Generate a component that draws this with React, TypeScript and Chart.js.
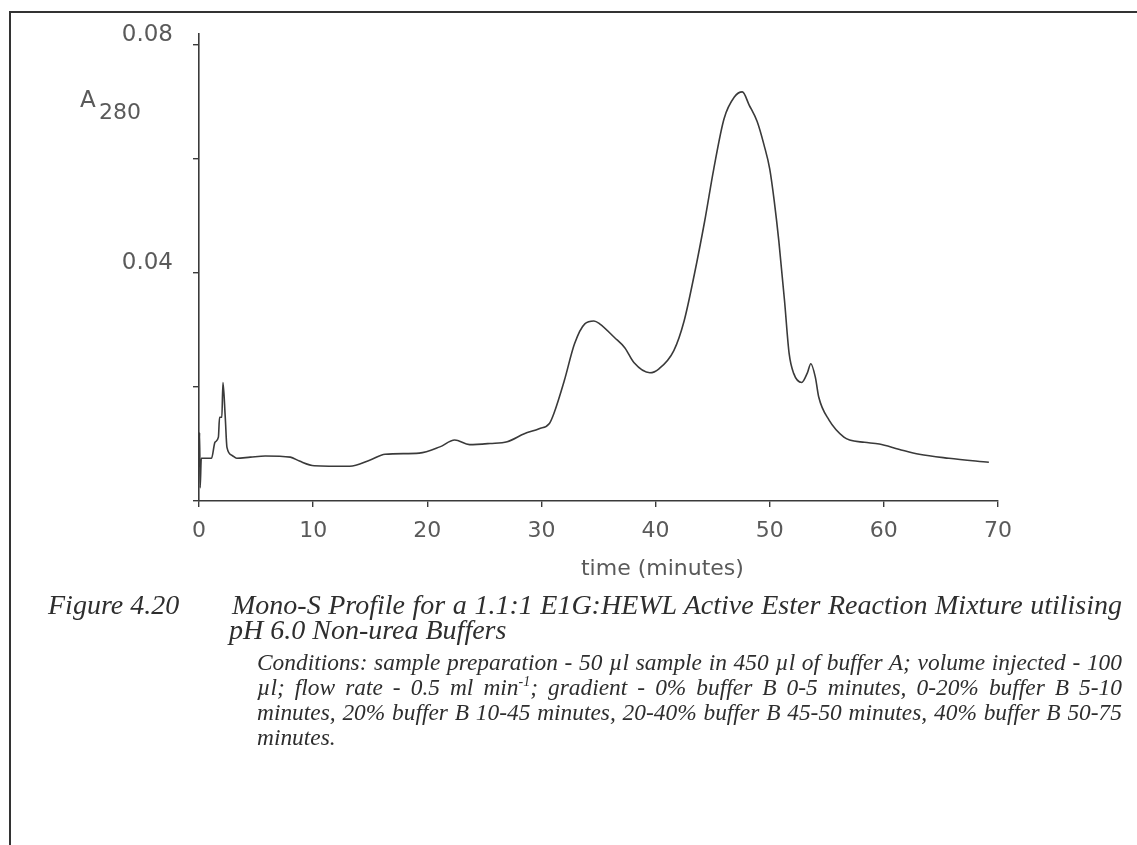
import React, { useEffect, useRef } from "react";
import { Chart, registerables } from "chart.js";

Chart.register(...registerables);

// Elution time (minutes) and absorbance at 280 nm
const timeMin = [
  0, 0.05, 0.1, 0.2, 1.1, 1.4, 1.7, 1.8, 2.0, 2.1,
  2.3, 2.45, 2.9, 3.3, 4.5, 5.8, 8, 8.8, 10.1, 13.2,
  15, 16.3, 19.3, 21.1, 22.4, 23.7, 25.5, 27, 28.5, 29.8,
  30.7, 31.1, 32, 32.9, 33.8, 34.6, 35.1, 36.4, 37.3, 38.1,
  39.5, 40.3, 41.6, 42.5, 43.4, 44.3, 45.1, 46, 46.9, 47.6,
  48.2, 48.9, 49.5, 50, 50.4, 50.8, 51.3, 51.7, 52.1, 52.8,
  53.3, 53.6, 54, 54.3, 55.2, 56.5, 57, 58.3, 59.6, 61.3,
  63.1, 65.7, 69.2,
];

const a280 = [
  0.006, 0.012, 0.0023, 0.0075, 0.0075, 0.0103, 0.0112, 0.0147, 0.0147, 0.0208,
  0.0147, 0.0094, 0.008, 0.0075, 0.0077, 0.0079, 0.0077, 0.007, 0.0062, 0.0061,
  0.0072, 0.0082, 0.0084, 0.0095, 0.0107, 0.0099, 0.0101, 0.0104, 0.0118, 0.0127,
  0.0136, 0.0154, 0.0211, 0.0276, 0.0311, 0.0316, 0.0311, 0.0287, 0.0269, 0.0243,
  0.0225, 0.0232, 0.0264, 0.0316, 0.0398, 0.0491, 0.0583, 0.0671, 0.0709, 0.0718,
  0.0695, 0.0666, 0.0625, 0.0583, 0.0526, 0.0456, 0.0351, 0.0259, 0.0224, 0.0208,
  0.0225, 0.0241, 0.0217, 0.0182, 0.0142, 0.0112, 0.0107, 0.0103, 0.01, 0.0091,
  0.0082, 0.0075, 0.0068,
];

const xTickValues = [0, 10, 20, 30, 40, 50, 60, 70];
const yTickValues = [0, 0.02, 0.04, 0.06, 0.08];
const yLabelledTicks = [0.04, 0.08];

const xTitle = "time (minutes)";
const yTitleMain = "A";
const yTitleSub = "280";

const figureLabel = "Figure 4.20";
const titleLines = [
  "Mono-S Profile for a 1.1:1 E1G:HEWL Active Ester Reaction Mixture utilising",
  "pH 6.0 Non-urea Buffers",
];

const W = 1137;
const H = 845;
const INK = "#3a3a3a";
const LABEL = "#5a5a5a";
const AXIS_FONT = '"DejaVu Sans", sans-serif';

const axisTitles = {
  id: "axisTitles",
  afterDraw(chart: any) {
    const { ctx, scales } = chart;
    ctx.save();
    ctx.fillStyle = LABEL;
    ctx.textBaseline = "alphabetic";
    ctx.textAlign = "left";
    ctx.font = `23px ${AXIS_FONT}`;
    ctx.fillText(yTitleMain, 80, 107);
    ctx.font = `22px ${AXIS_FONT}`;
    ctx.fillText(yTitleSub, 99, 119);
    ctx.textAlign = "center";
    ctx.font = `22px ${AXIS_FONT}`;
    ctx.fillText(xTitle, scales.x.getPixelForValue(40.6), 575);
    ctx.restore();
  },
};

function ChromatogramChart() {
  const ref = useRef<HTMLCanvasElement | null>(null);

  useEffect(() => {
    if (!ref.current) return;
    const points = timeMin.map((t, i) => ({ x: t, y: a280[i] }));
    const chart = new Chart(ref.current, {
      type: "line",
      data: {
        datasets: [
          {
            data: points,
            borderColor: INK,
            borderWidth: 1.6,
            pointRadius: 0,
            fill: false,
            cubicInterpolationMode: "monotone",
          },
        ],
      },
      options: {
        animation: false,
        responsive: false,
        devicePixelRatio: 1,
        layout: { padding: { top: 32, right: 139, left: 0, bottom: 0 } },
        plugins: {
          legend: { display: false },
          tooltip: { enabled: false },
          title: { display: false },
        },
        scales: {
          x: {
            type: "linear",
            min: 0,
            max: 70,
            afterFit: (s: any) => {
              s.height = H - 501;
            },
            afterBuildTicks: (s: any) => {
              s.ticks = xTickValues.map((v) => ({ value: v }));
            },
            border: { display: true, color: INK, width: 1.6 },
            grid: {
              display: true,
              drawOnChartArea: false,
              drawTicks: true,
              tickLength: 6,
              color: INK,
              lineWidth: 1.4,
            },
            ticks: {
              color: LABEL,
              font: { family: AXIS_FONT, size: 22 },
              padding: 11,
              maxRotation: 0,
              autoSkip: false,
              callback: (v: any) => String(v),
            },
          },
          y: {
            type: "linear",
            min: 0,
            max: 0.082,
            afterFit: (s: any) => {
              s.width = 199;
            },
            afterBuildTicks: (s: any) => {
              s.ticks = yTickValues.map((v) => ({ value: v }));
            },
            border: { display: true, color: INK, width: 1.6 },
            grid: {
              display: true,
              drawOnChartArea: false,
              drawTicks: true,
              tickLength: 6,
              color: INK,
              lineWidth: 1.4,
            },
            ticks: {
              color: LABEL,
              font: { family: AXIS_FONT, size: 23 },
              padding: 20,
              labelOffset: -10,
              autoSkip: false,
              callback: (v: any) => {
                const n = Number(v);
                return yLabelledTicks.some((t) => Math.abs(t - n) < 1e-9)
                  ? n.toFixed(2)
                  : "";
              },
            },
          },
        },
      },
      plugins: [axisTitles],
    });
    return () => chart.destroy();
  }, []);

  return (
    <canvas
      ref={ref}
      width={W}
      height={H}
      style={{ position: "absolute", left: 0, top: 0, width: W, height: H }}
    />
  );
}

const captionFont = '"Liberation Serif", "Times New Roman", serif';

function Line({
  text,
  left,
  baseline,
  width,
  size,
  justify,
}: {
  text: React.ReactNode;
  left: number;
  baseline: number;
  width?: number;
  size: number;
  justify?: boolean;
}) {
  return (
    <div
      style={{
        position: "absolute",
        left,
        top: baseline - Math.round(size * 0.86),
        width: width ?? "auto",
        fontFamily: captionFont,
        fontStyle: "italic",
        fontSize: size,
        lineHeight: `${Math.round(size)}px`,
        color: "#2e2e2e",
        whiteSpace: "nowrap",
        textAlign: justify ? "justify" : "left",
        textAlignLast: justify ? "justify" : "auto",
      } as React.CSSProperties}
    >
      {text}
    </div>
  );
}

export default function App() {
  const rightEdge = 1122;
  const titleLeft = 232;
  const condLeft = 257;
  const titleSize = 28;
  const condSize = 23.4;
  return (
    <div
      style={{
        position: "fixed",
        left: 0,
        top: 0,
        width: W,
        height: H,
        background: "#ffffff",
        overflow: "hidden",
      }}
    >
      <div
        style={{
          position: "absolute",
          left: 9,
          top: 11,
          width: W,
          height: H,
          borderLeft: "2px solid #333",
          borderTop: "2px solid #333",
        }}
      />
      <ChromatogramChart />
      <Line text={figureLabel} left={48} baseline={615} size={titleSize} />
      <Line
        text={titleLines[0]}
        left={titleLeft}
        baseline={615}
        width={rightEdge - titleLeft}
        size={titleSize}
        justify
      />
      <Line text={titleLines[1]} left={titleLeft - 3} baseline={640} size={titleSize} />
      <Line
        text="Conditions: sample preparation - 50 µl sample in 450 µl of buffer A; volume injected - 100"
        left={condLeft}
        baseline={671}
        width={rightEdge - condLeft}
        size={condSize}
        justify
      />
      <Line
        text={
          <>
            µl; flow rate - 0.5 ml min
            <sup style={{ fontSize: 14, lineHeight: 0 }}>-1</sup>; gradient - 0% buffer B 0-5 minutes, 0-20% buffer B 5-10
          </>
        }
        left={condLeft}
        baseline={696}
        width={rightEdge - condLeft}
        size={condSize}
        justify
      />
      <Line
        text="minutes, 20% buffer B 10-45 minutes, 20-40% buffer B 45-50 minutes, 40% buffer B 50-75"
        left={condLeft}
        baseline={721}
        width={rightEdge - condLeft}
        size={condSize}
        justify
      />
      <Line text="minutes." left={condLeft} baseline={746} size={condSize} />
    </div>
  );
}
